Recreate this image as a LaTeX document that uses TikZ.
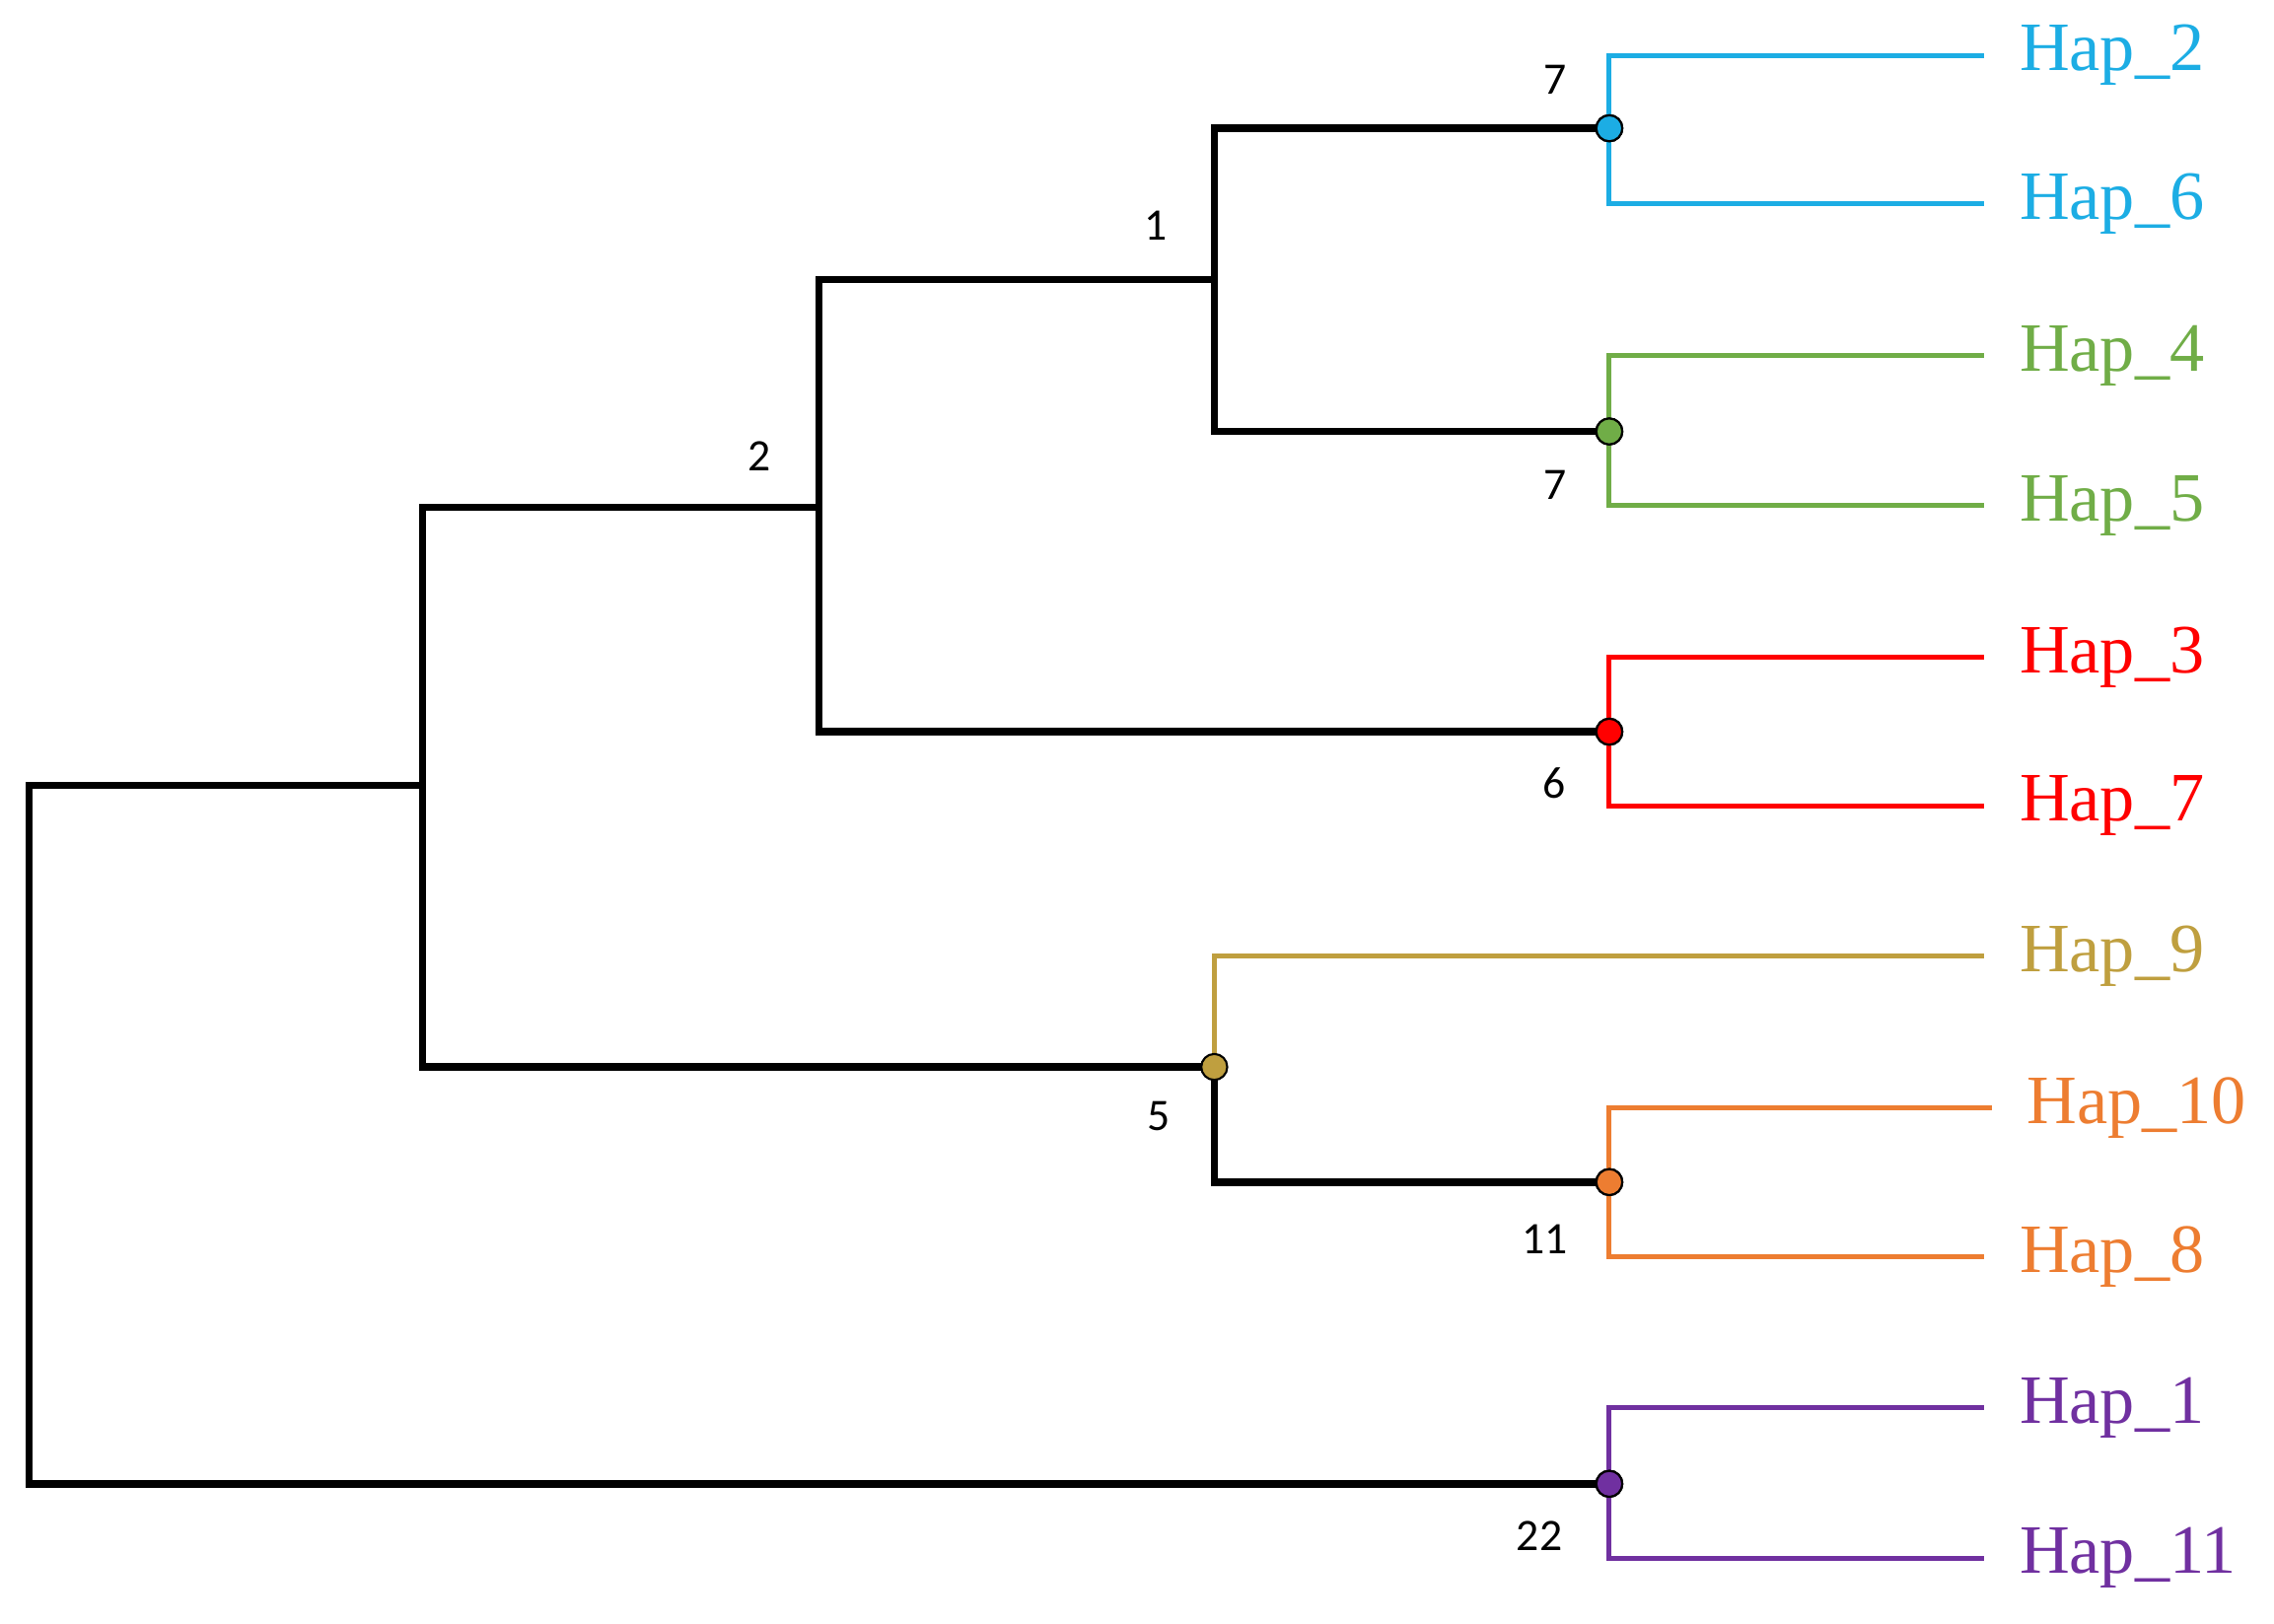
\documentclass[tikz,border=0pt]{standalone}
\usepackage{fontspec}
\setmainfont{Liberation Serif}
\newfontfamily\numfont{Carlito}
\definecolor{cblue}{HTML}{1CADE4}
\definecolor{cgreen}{HTML}{70AD47}
\definecolor{cred}{HTML}{FF0000}
\definecolor{cgold}{HTML}{BF9F3F}
\definecolor{corange}{HTML}{ED7D31}
\definecolor{cpurple}{HTML}{7030A0}
\tikzset{
 blk/.style={line width=2.1pt,black},
 col/.style={line width=1.4pt},
 dot/.style={circle,draw=black,line width=0.6pt,minimum size=7.5pt,inner sep=0pt},
 hap/.style={anchor=west,font=\fontsize{20}{22}\selectfont,inner sep=0pt},
 num/.style={font=\numfont\fontsize{13}{15}\selectfont,inner sep=0pt}
}
\begin{document}
\begin{tikzpicture}[x=0.01478cm,y=-0.01478cm]
\useasboundingbox (0,0) rectangle (1560,1114);
% internal coordinates
\coordinate (r1) at (20,539); \coordinate (r2) at (20,1018);
\coordinate (a1) at (290,348); \coordinate (a2) at (290,732);
\coordinate (b1) at (562,192); \coordinate (b2) at (562,502);
\coordinate (c1) at (833,88); \coordinate (c2) at (833,296);
\coordinate (d) at (833,732); \coordinate (d1) at (833,656); \coordinate (d2) at (833,811);
% black backbone
\draw[blk,line cap=rect] (r1) -- (r2);
\draw[blk] (r1) -- (290,539);
\draw[blk,line cap=rect] (a1) -- (a2);
\draw[blk] (a1) -- (b1|-a1); \draw[blk,line cap=rect] (b1) -- (b2);
\draw[blk] (b1) -- (c1|-b1); \draw[blk,line cap=rect] (c1) -- (c2);
\node[dot,fill=cblue] (nb) at (1104,88) {};
\node[dot,fill=cgreen] (ng) at (1104,296) {};
\node[dot,fill=cred] (nr) at (1104,502) {};
\node[dot,fill=corange] (no) at (1104,811) {};
\node[dot,fill=cpurple] (np) at (1104,1018) {};
\draw[blk] (c1) -- (nb.center);
\draw[blk] (c2) -- (ng.center);
\draw[blk] (b2) -- (nr.center);
\draw[blk] (a2) -- (d);
\draw[blk,line cap=rect] (d) -- (d2);
\draw[blk] (d2) -- (no.center);
\draw[blk] (r2) -- (np.center);
% leaves
\node[hap,text=cblue] (h2) at (1385,38) {Hap\_2};
\node[hap,text=cblue] (h6) at (1385,140) {Hap\_6};
\node[hap,text=cgreen] (h4) at (1385,244) {Hap\_4};
\node[hap,text=cgreen] (h5) at (1385,347) {Hap\_5};
\node[hap,text=cred] (h3) at (1385,451) {Hap\_3};
\node[hap,text=cred] (h7) at (1385,553) {Hap\_7};
\node[hap,text=cgold] (h9) at (1385,656) {Hap\_9};
\node[hap,text=corange] (h10) at (1390,760) {Hap\_10};
\node[hap,text=corange] (h8) at (1385,862) {Hap\_8};
\node[hap,text=cpurple] (h1) at (1385,966) {Hap\_1};
\node[hap,text=cpurple] (h11) at (1385,1069) {Hap\_11};
\foreach \n/\t/\c in {nb/h2/cblue,nb/h6/cblue,ng/h4/cgreen,ng/h5/cgreen,nr/h3/cred,nr/h7/cred,no/h10/corange,no/h8/corange,np/h1/cpurple,np/h11/cpurple}
  \draw[col,\c] (\n.center) |- ([xshift=-10]\t.west);
\draw[col,cgold] (d) -- (d1) -- ([xshift=-10]h9.west);
\draw[blk,line cap=rect] (d) -- (d2);
\node[dot,fill=cgold] (nd) at (d) {};
\foreach \n in {nb,ng,nr,no,np} \node[dot,fill=.] at (\n) {};
\node[dot,fill=cblue] at (nb) {};
\node[dot,fill=cgreen] at (ng) {};
\node[dot,fill=cred] at (nr) {};
\node[dot,fill=corange] at (no) {};
\node[dot,fill=cpurple] at (np) {};
% numbers
\node[num] (l2) at (521,313) {2};
\node[num] (l1) at (793,155) {1};
\node[num] (l7a) at (1067,55) {7};
\node[num] (l7b) at (1067,333) {7};
\node[num] (l6) at (1066,537) {6};
\node[num] (l5) at (795,766) {5};
\node[num] (l11) at (1060,850) {11};
\node[num] (l22) at (1056,1054) {22};
\end{tikzpicture}
\end{document}
